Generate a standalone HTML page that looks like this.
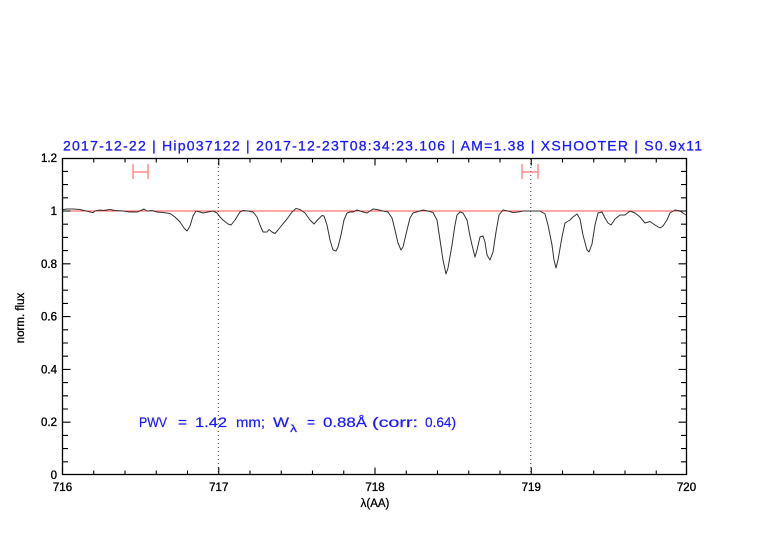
<!DOCTYPE html>
<html>
<head>
<meta charset="utf-8">
<style>
  html,body{margin:0;padding:0;background:#fff;}
  svg{display:block;}
  text{font-family:"Liberation Sans", sans-serif;}
</style>
</head>
<body>
<svg width="782" height="542" viewBox="0 0 782 542" xmlns="http://www.w3.org/2000/svg">
  <rect x="0" y="0" width="782" height="542" fill="#fff"/>

  <!-- Title -->
  <text x="63" y="150.5" font-size="14" fill="#1a1aff" stroke="#1a1aff" stroke-width="0.3" textLength="639" lengthAdjust="spacing">2017-12-22 | Hip037122 | 2017-12-23T08:34:23.106 | AM=1.38 | XSHOOTER | S0.9x11</text>

  <!-- reference line -->
  <line x1="62.5" y1="211" x2="686.5" y2="211" stroke="#ff5050" stroke-width="1"/>

  <!-- dotted verticals -->
  <line x1="218.3" y1="159" x2="218.3" y2="475" stroke="#333" stroke-width="1" stroke-dasharray="1,3"/>
  <line x1="530.8" y1="159" x2="530.8" y2="475" stroke="#333" stroke-width="1" stroke-dasharray="1,3"/>

  <!-- error bars -->
  <g stroke="#ff7070" stroke-width="1.2" fill="none">
    <line x1="133" y1="172" x2="148" y2="172"/>
    <line x1="133" y1="164" x2="133" y2="179"/>
    <line x1="148" y1="164" x2="148" y2="179"/>
    <line x1="522" y1="172" x2="538" y2="172"/>
    <line x1="522" y1="164" x2="522" y2="179"/>
    <line x1="538" y1="164" x2="538" y2="179"/>
  </g>

  <!-- spectrum -->
  <polyline fill="none" stroke="#333" stroke-width="1" stroke-linejoin="round" points="
62,209.7 67,209 73,209 80,209.5 86,211 93,212.7 95,211 100,210 103,210.5 110,209.5 115,210.5 123,211 130,212 137,212 142,210 144,209 147,211 152,210.5 157,212 163,212.5 170,213.5 175,217 180,222 184,228 187,231 190,226 193,216 196,211 200,212 203,213 208,212 213,211 217,213
220,217 223,220 228,224 231,225 235,220 240,212 243,210.5 248,211 253,212 257,217 260,225 263,232 267,232 269,229.5 272,232 275,233.5 278,230 282,225 287,219 292,212 296,208.5 300,209.5 305,213 310,220 314,224 318,219.5 322,215.5 324,216 327,225 330,240 333,250 336,251 338,247 341,235 344,220 347,213 350,212 353,212 357,210 360,211 363,212 367,213 370,211
373,209 377,209.5 383,211 388,212 392,218 395,230 398,243 401,250 403,247 407,230 410,218 413,213 418,211.5 423,210 428,211 433,212.5 437,220 440,240 443,260 446,274 448,268 452,245 455,225 457,215 460,212 463,213 467,220 470,236 472,245 475,257 477,250 480,237 483,236 485,242 487,255 490,260 493,252 496,232 499,215 503,210 508,211 513,212.5 518,212 523,211
530,211 540,211 545,214 548,225 552,245 554,260 556,268 558,260 562,237 565,223 570,220 573,217 577,214 580,219 583,235 587,250 589,252 592,244 595,225 598,213 602,212 605,218 608,223 611,225 615,219 620,215 625,215 630,211 635,213 640,217 645,223 650,221.5 655,225 660,228 663,226 667,220 670,213 675,210 680,211 686,215"/>

  <!-- axes box -->
  <rect x="62.5" y="158.5" width="624" height="316" fill="none" stroke="#000" stroke-width="1.3"/>

  <!-- ticks -->
  <g stroke="#000" stroke-width="1.1">
    <path d="M62.5,474.5v-7 M218.75,474.5v-7 M375,474.5v-7 M531.25,474.5v-7 M686.5,474.5v-7
             M62.5,158.5v7 M218.75,158.5v7 M375,158.5v7 M531.25,158.5v7 M686.5,158.5v7"/>
    <path d="M93.75,474.5v-4 M125,474.5v-4 M156.25,474.5v-4 M187.5,474.5v-4
             M250,474.5v-4 M281.25,474.5v-4 M312.5,474.5v-4 M343.75,474.5v-4
             M406.25,474.5v-4 M437.5,474.5v-4 M468.75,474.5v-4 M500,474.5v-4
             M562.5,474.5v-4 M593.75,474.5v-4 M625,474.5v-4 M656.25,474.5v-4
             M93.75,158.5v4 M125,158.5v4 M156.25,158.5v4 M187.5,158.5v4
             M250,158.5v4 M281.25,158.5v4 M312.5,158.5v4 M343.75,158.5v4
             M406.25,158.5v4 M437.5,158.5v4 M468.75,158.5v4 M500,158.5v4
             M562.5,158.5v4 M593.75,158.5v4 M625,158.5v4 M656.25,158.5v4"/>
    <path d="M62.5,422.2h8 M62.5,369.4h8 M62.5,316.6h8 M62.5,263.8h8 M62.5,211h8
             M686.5,422.2h-8 M686.5,369.4h-8 M686.5,316.6h-8 M686.5,263.8h-8 M686.5,211h-8"/>
    <path d="M62.5,461.8h5.5 M62.5,448.6h5.5 M62.5,435.4h5.5
             M62.5,409h5.5 M62.5,395.8h5.5 M62.5,382.6h5.5
             M62.5,356.2h5.5 M62.5,343h5.5 M62.5,329.8h5.5
             M62.5,303.4h5.5 M62.5,290.2h5.5 M62.5,277h5.5
             M62.5,250.6h5.5 M62.5,237.4h5.5 M62.5,224.2h5.5
             M62.5,197.8h5.5 M62.5,184.6h5.5 M62.5,171.4h5.5
             M686.5,461.8h-5.5 M686.5,448.6h-5.5 M686.5,435.4h-5.5
             M686.5,409h-5.5 M686.5,395.8h-5.5 M686.5,382.6h-5.5
             M686.5,356.2h-5.5 M686.5,343h-5.5 M686.5,329.8h-5.5
             M686.5,303.4h-5.5 M686.5,290.2h-5.5 M686.5,277h-5.5
             M686.5,250.6h-5.5 M686.5,237.4h-5.5 M686.5,224.2h-5.5
             M686.5,197.8h-5.5 M686.5,184.6h-5.5 M686.5,171.4h-5.5"/>
  </g>

  <!-- y tick labels -->
  <g font-size="11.5" fill="#000" text-anchor="end" stroke="#000" stroke-width="0.35">
    <text x="57" y="479">0</text>
    <text x="57" y="426.2">0.2</text>
    <text x="57" y="373.4">0.4</text>
    <text x="57" y="320.6">0.6</text>
    <text x="57" y="267.8">0.8</text>
    <text x="57" y="215">1</text>
    <text x="57" y="162.2">1.2</text>
  </g>

  <!-- x tick labels -->
  <g font-size="11.5" fill="#000" text-anchor="middle" stroke="#000" stroke-width="0.35">
    <text x="62.5" y="491">716</text>
    <text x="218.75" y="491">717</text>
    <text x="375" y="491">718</text>
    <text x="531.25" y="491">719</text>
    <text x="686.5" y="491">720</text>
  </g>

  <!-- axis labels -->
  <text x="375" y="507" font-size="11.5" text-anchor="middle" fill="#000" stroke="#000" stroke-width="0.3">λ(AA)</text>
  <text x="0" y="0" font-size="11.5" text-anchor="middle" fill="#000" stroke="#000" stroke-width="0.3" transform="translate(24,318) rotate(-90)">norm. flux</text>

  <!-- annotation -->
  <g font-size="13.5" fill="#1a1aff" stroke="#1a1aff" stroke-width="0.2">
    <text x="139" y="427" textLength="28" lengthAdjust="spacingAndGlyphs">PWV</text>
    <text x="178" y="427" textLength="9" lengthAdjust="spacingAndGlyphs">=</text>
    <text x="195" y="427" textLength="32" lengthAdjust="spacingAndGlyphs">1.42</text>
    <text x="236" y="427" textLength="29" lengthAdjust="spacingAndGlyphs">mm;</text>
    <text x="273" y="427" textLength="16" lengthAdjust="spacingAndGlyphs">W</text>
    <text x="290" y="432" font-size="10" textLength="7" lengthAdjust="spacingAndGlyphs">λ</text>
    <text x="307" y="427" textLength="8" lengthAdjust="spacingAndGlyphs">=</text>
    <text x="323" y="427" textLength="44" lengthAdjust="spacingAndGlyphs">0.88Å</text>
    <text x="372" y="427" textLength="46" lengthAdjust="spacingAndGlyphs">(corr:</text>
    <text x="425" y="427" textLength="31" lengthAdjust="spacingAndGlyphs">0.64)</text>
  </g>
</svg>
</body>
</html>
